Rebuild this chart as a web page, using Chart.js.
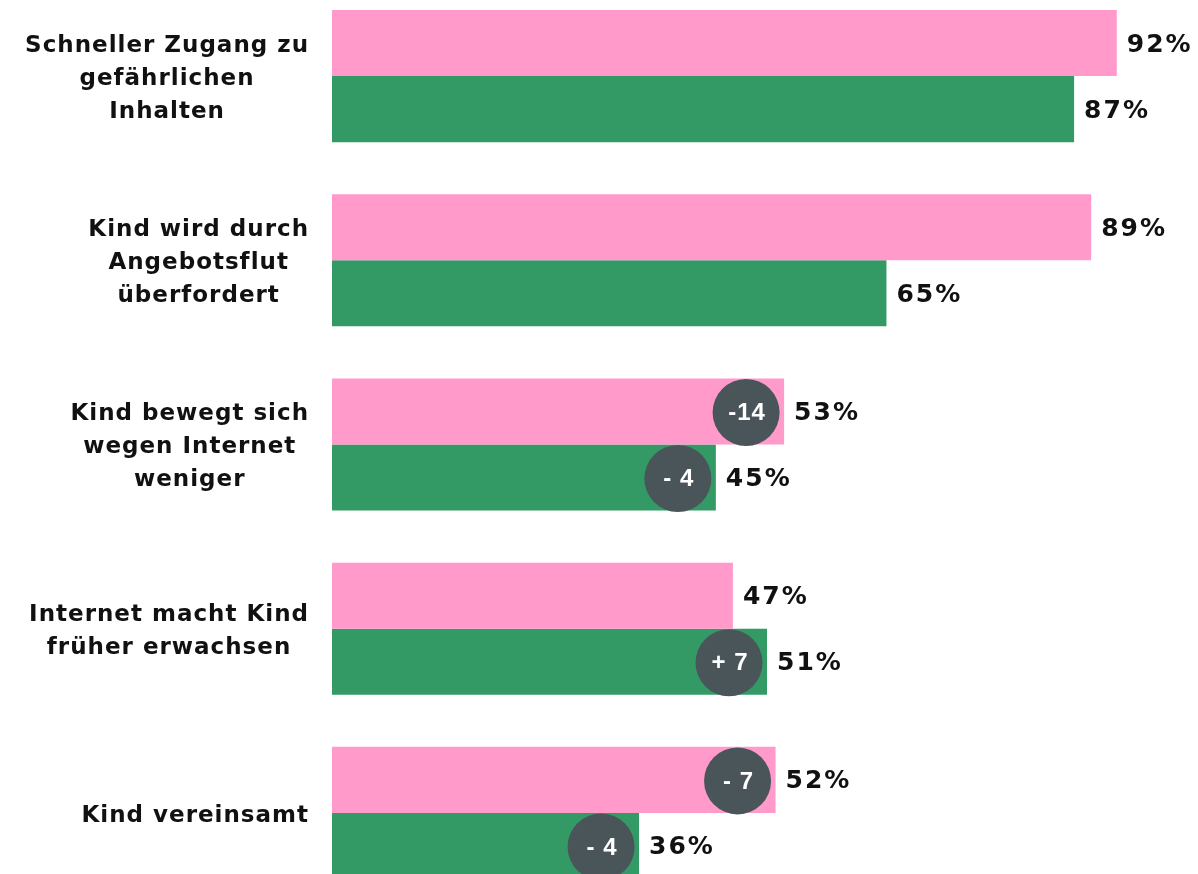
<!DOCTYPE html>
<html>
<head>
<meta charset="utf-8">
<script src="https://cdn.jsdelivr.net/npm/chart.js@4/dist/chart.umd.min.js"></script>
<style>
  html, body { margin: 0; padding: 0; background: #fff; overflow: hidden; }
  #wrap { position: absolute; left: 0; top: -16px; width: 1198px; height: 921px; }
</style>
</head>
<body>
<div id="wrap"><canvas id="barChart"></canvas></div>
<script>
// data
var categories = [
    ["Schneller Zugang zu", "gefährlichen", "Inhalten"],
    ["Kind wird durch", "Angebotsflut", "überfordert"],
    ["Kind bewegt sich", "wegen Internet", "weniger"],
    ["Internet macht Kind", "früher erwachsen"],
    ["Kind vereinsamt"]
];
var pinkValues = [92, 89, 53, 47, 52];
var greenValues = [87, 65, 45, 51, 36];
var pinkChanges = [null, null, "-14", null, "- 7"];
var greenChanges = [null, null, "- 4", "+ 7", "- 4"];

var pinkColor = "#ff9acb";
var greenColor = "#339a65";
var bubbleColor = "#4a5559";

var labelPlugin = {
    id: "labelPlugin",
    afterDatasetsDraw: function (chart) {
        var ctx = chart.ctx;
        var changes = [pinkChanges, greenChanges];
        ctx.save();
        // value labels
        ctx.fillStyle = "#111";
        ctx.font = "bold 25px 'DejaVu Sans'";
        ctx.letterSpacing = "2px";
        ctx.textAlign = "left";
        ctx.textBaseline = "middle";
        chart.data.datasets.forEach(function (ds, d) {
            chart.getDatasetMeta(d).data.forEach(function (bar, i) {
                ctx.fillText(ds.data[i] + "%", bar.x + 10, bar.y + 2);
            });
        });
        // change bubbles
        chart.data.datasets.forEach(function (ds, d) {
            chart.getDatasetMeta(d).data.forEach(function (bar, i) {
                var txt = changes[d][i];
                if (!txt) return;
                var cx = bar.x - 38;
                var cy = bar.y + 1;
                ctx.fillStyle = bubbleColor;
                ctx.beginPath();
                ctx.arc(cx, cy, 33.5, 0, Math.PI * 2);
                ctx.fill();
                ctx.fillStyle = "#fff";
                ctx.font = "bold 24px 'Liberation Sans'";
                ctx.letterSpacing = "1px";
                ctx.textAlign = "center";
                ctx.fillText(txt, cx + 1, cy + 1);
            });
        });
        // category labels on the left
        ctx.fillStyle = "#111";
        ctx.font = "bold 23px 'DejaVu Sans'";
        ctx.letterSpacing = "1px";
        ctx.textAlign = "center";
        var y = chart.scales.y;
        categories.forEach(function (lines, i) {
            var w = 0;
            lines.forEach(function (l) { w = Math.max(w, ctx.measureText(l).width); });
            var cx = 309 - w / 2;
            var cy = y.getPixelForValue(i) + 3;
            var lh = 33;
            lines.forEach(function (l, k) {
                ctx.fillText(l, cx, cy + (k - (lines.length - 1) / 2) * lh);
            });
        });
        ctx.restore();
    }
};

function createChart() {
    var ctx = document.getElementById("barChart").getContext("2d");
    new Chart(ctx, {
        type: "bar",
        data: {
            labels: categories.map(function (c) { return c.join(" "); }),
            datasets: [{
                data: pinkValues,
                backgroundColor: pinkColor
            }, {
                data: greenValues,
                backgroundColor: greenColor
            }]
        },
        options: {
            indexAxis: "y",
            responsive: true,
            maintainAspectRatio: false,
            animation: false,
            categoryPercentage: 0.717,
            barPercentage: 1.0,
            layout: { padding: { left: 332, right: 13, top: 0, bottom: 0 } },
            plugins: { legend: { display: false }, tooltip: { enabled: false } },
            scales: {
                x: { display: false, min: 0, max: 100 },
                y: { display: false }
            }
        },
        plugins: [labelPlugin]
    });
}

createChart();
</script>
</body>
</html>
